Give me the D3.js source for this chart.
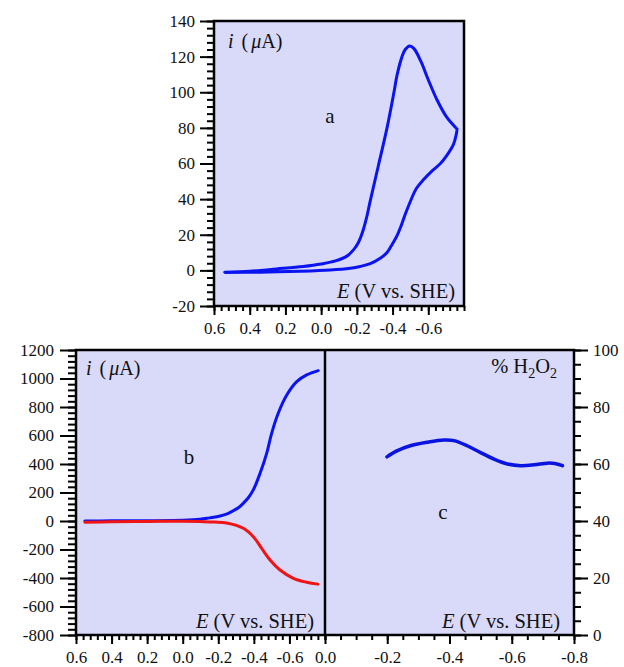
<!DOCTYPE html>
<html>
<head>
<meta charset="utf-8">
<script src="https://cdn.jsdelivr.net/npm/d3@7"></script>
<style>
  body { margin: 0; background: #fff; }
  svg text { font-family: "Liberation Serif", "Times New Roman", serif; fill: #111; }
</style>
</head>
<body>
<script>
// panel a: cyclic voltammogram (forward branch, then return branch)
const cvUpperE = [0.54, 0.4, 0.25, 0.1, 0.0, -0.08, -0.144, -0.181, -0.208, -0.232, -0.253, -0.275, -0.321, -0.369, -0.406, -0.426, -0.453, -0.471, -0.495, -0.52, -0.56, -0.6, -0.65, -0.7, -0.76];
const cvUpperI = [-1, -0.5, 0.8, 2.2, 3.6, 5.3, 8, 11.5, 15.5, 21.5, 29, 39, 59, 80, 99, 110, 120, 124, 126, 124.5, 117, 107, 95.5, 86.5, 79.5];
const cvLowerE = [-0.761, -0.742, -0.707, -0.668, -0.623, -0.574, -0.533, -0.503, -0.471, -0.446, -0.425, -0.393, -0.369, -0.331, -0.275, -0.219, -0.163, -0.051, 0.118, 0.342, 0.538];
const cvLowerI = [79.5, 71, 65, 60, 56, 51, 46, 39.5, 31.5, 24.5, 19.5, 13.8, 10, 6.8, 3.8, 2.2, 1.2, 0.2, -0.5, -1, -1.2];

// panel b: ring-disk currents
const diskE = [0.55, 0.4, 0.2, 0.0, -0.097, -0.15, -0.21, -0.25, -0.284, -0.315, -0.341, -0.37, -0.397, -0.435, -0.472, -0.5, -0.537, -0.585, -0.641, -0.697, -0.762];
const diskI = [0, 1, 2, 5, 12, 22, 35, 50, 72, 95, 125, 165, 218, 335, 475, 615, 756, 884, 978, 1025, 1055];
const ringE = [0.55, 0.4, 0.2, 0.0, -0.097, -0.18, -0.247, -0.341, -0.397, -0.444, -0.491, -0.547, -0.622, -0.697, -0.76];
const ringI = [-9, -5, -3, -2, -4, -7, -14, -51, -110, -192, -274, -344, -402, -430, -443];

// panel c: % H2O2
const h2o2E = [-0.199, -0.231, -0.274, -0.328, -0.382, -0.414, -0.457, -0.5, -0.543, -0.586, -0.629, -0.672, -0.715, -0.742, -0.763];
const h2o2P = [62.5, 64.6, 66.4, 67.6, 68.4, 68.2, 66.4, 64, 61.7, 60, 59.4, 59.7, 60.3, 60.1, 59.4];

// tick labels
const ticksAx = [0.6, 0.4, 0.2, 0.0, -0.2, -0.4, -0.6];
const ticksAy = [-20, 0, 20, 40, 60, 80, 100, 120, 140];
const ticksBx = [0.6, 0.4, 0.2, 0.0, -0.2, -0.4, -0.6];
const ticksBy = [-800, -600, -400, -200, 0, 200, 400, 600, 800, 1000, 1200];
const ticksCx = [0.0, -0.2, -0.4, -0.6, -0.8];
const ticksCy = [0, 20, 40, 60, 80, 100];

const W = 624, H = 667;
const bg = "#d9d9f9";
const serif = "'Liberation Serif', 'Times New Roman', serif";

const svg = d3.select("body").append("svg")
    .attr("width", W)
    .attr("height", H);

// scales
const xa = d3.scaleLinear().domain([0.6, -0.8]).range([214, 464]);
const ya = d3.scaleLinear().domain([-20, 140]).range([306, 21]);
const xb = d3.scaleLinear().domain([0.6, -0.8]).range([76, 325]);
const yb = d3.scaleLinear().domain([-800, 1200]).range([635, 350]);
const xc = d3.scaleLinear().domain([0, -0.8]).range([325, 574]);
const yc = d3.scaleLinear().domain([0, 100]).range([635, 350]);

// backgrounds
svg.append("rect").attr("x", 214).attr("y", 21).attr("width", 250).attr("height", 285).attr("fill", bg);
svg.append("rect").attr("x", 76).attr("y", 350).attr("width", 498).attr("height", 285).attr("fill", bg);

const fmt1 = d3.format(".1f");
const fmtMinus = d => fmt1(d).replace("−", "-");
const fmtInt = d => String(d);

function styleAxis(g) {
    g.attr("font-family", serif).attr("font-size", 17);
    g.selectAll(".domain").remove();
    g.selectAll("line").attr("stroke", "#000").attr("stroke-width", 2);
    g.selectAll("text").attr("fill", "#111").style("font-family", serif);
}

// minor + major ticks
function leftAxis(y, x0, major, minorStep, size, pad) {
    const [d0, d1] = y.domain();
    svg.append("g").attr("transform", `translate(${x0},0)`)
        .call(d3.axisLeft(y).tickValues(d3.range(d0, d1 + 1e-9, minorStep)).tickSize(size / 2).tickFormat(""))
        .call(styleAxis);
    svg.append("g").attr("transform", `translate(${x0},0)`)
        .call(d3.axisLeft(y).tickValues(major).tickSize(size).tickPadding(pad).tickFormat(fmtInt))
        .call(styleAxis);
}

function bottomAxis(x, y0, major, minorVals, fmt) {
    svg.append("g").attr("transform", `translate(0,${y0})`)
        .call(d3.axisBottom(x).tickValues(minorVals).tickSize(5).tickFormat(""))
        .call(styleAxis);
    svg.append("g").attr("transform", `translate(0,${y0})`)
        .call(d3.axisBottom(x).tickValues(major).tickSize(9).tickPadding(7).tickFormat(fmt))
        .call(styleAxis);
}

// panel a axes
leftAxis(ya, 214, ticksAy, 4, 14, 5);
bottomAxis(xa, 306, ticksAx, d3.range(0, 36).map(k => 0.6 - k * 0.04), fmtMinus);

// panel b axes
leftAxis(yb, 76, ticksBy, 40, 16, 6);
bottomAxis(xb, 635, ticksBx, d3.range(0, 36).map(k => 0.6 - k * 0.04), fmtMinus);

// panel c axes
bottomAxis(xc, 635, ticksCx, d3.range(0, 17).map(k => -k * 0.05), fmtMinus);
svg.append("g").attr("transform", "translate(574,0)")
    .call(d3.axisRight(yc).tickValues(d3.range(0, 101, 5)).tickSize(7).tickFormat(""))
    .call(styleAxis);
svg.append("g").attr("transform", "translate(574,0)")
    .call(d3.axisRight(yc).tickValues(ticksCy).tickSize(14).tickPadding(5).tickFormat(fmtInt))
    .call(styleAxis);

// frames
svg.append("rect").attr("x", 214).attr("y", 21).attr("width", 250).attr("height", 285)
    .attr("fill", "none").attr("stroke", "#000").attr("stroke-width", 2.5);
svg.append("rect").attr("x", 76).attr("y", 350).attr("width", 498).attr("height", 285)
    .attr("fill", "none").attr("stroke", "#000").attr("stroke-width", 2.5);
svg.append("line").attr("x1", 325).attr("x2", 325).attr("y1", 350).attr("y2", 635)
    .attr("stroke", "#000").attr("stroke-width", 2.5);

// curves
function drawCurve(xs, ys, x, y, color, w) {
    const pts = xs.map((e, k) => [e, ys[k]]);
    svg.append("path")
        .datum(pts)
        .attr("fill", "none")
        .attr("stroke", color)
        .attr("stroke-width", w)
        .attr("stroke-linejoin", "round")
        .attr("stroke-linecap", "round")
        .attr("d", d3.line().x(d => x(d[0])).y(d => y(d[1])).curve(d3.curveCatmullRom.alpha(0.5)));
}

drawCurve(cvUpperE.concat(cvLowerE), cvUpperI.concat(cvLowerI), xa, ya, "#0a14f0", 3);
drawCurve(diskE, diskI, xb, yb, "#0a14f0", 3);
drawCurve(ringE, ringI, xb, yb, "#f01414", 3);
drawCurve(h2o2E, h2o2P, xc, yc, "#0a14e0", 3.5);

// labels
function currentLabel(x, y) {
    const t = svg.append("text").attr("x", x).attr("y", y).attr("font-size", 20);
    t.append("tspan").attr("font-style", "italic").text("i");
    t.append("tspan").attr("dx", 3).text(" (");
    t.append("tspan").attr("dx", 3).attr("font-style", "italic").text("μ");
    t.append("tspan").text("A)");
}

function potentialLabel(xEnd, y) {
    const t = svg.append("text").attr("x", xEnd).attr("y", y).attr("font-size", 20.5).attr("text-anchor", "end");
    t.append("tspan").attr("font-style", "italic").text("E");
    t.append("tspan").text(" (V vs. SHE)");
}

function panelLetter(x, y, s) {
    svg.append("text").attr("x", x).attr("y", y).attr("font-size", 21)
        .attr("text-anchor", "middle").text(s);
}

currentLabel(228, 48);
potentialLabel(455, 298);
panelLetter(330, 123, "a");

currentLabel(86, 375);
potentialLabel(314, 628);
panelLetter(189, 464, "b");

potentialLabel(560, 628);
panelLetter(443, 519, "c");

const h = svg.append("text").attr("x", 557).attr("y", 373).attr("font-size", 20.5).attr("text-anchor", "end");
h.append("tspan").text("% H");
h.append("tspan").attr("font-size", 14).attr("dy", 5).text("2");
h.append("tspan").attr("dy", -5).text("O");
h.append("tspan").attr("font-size", 14).attr("dy", 5).text("2");
</script>
</body>
</html>
